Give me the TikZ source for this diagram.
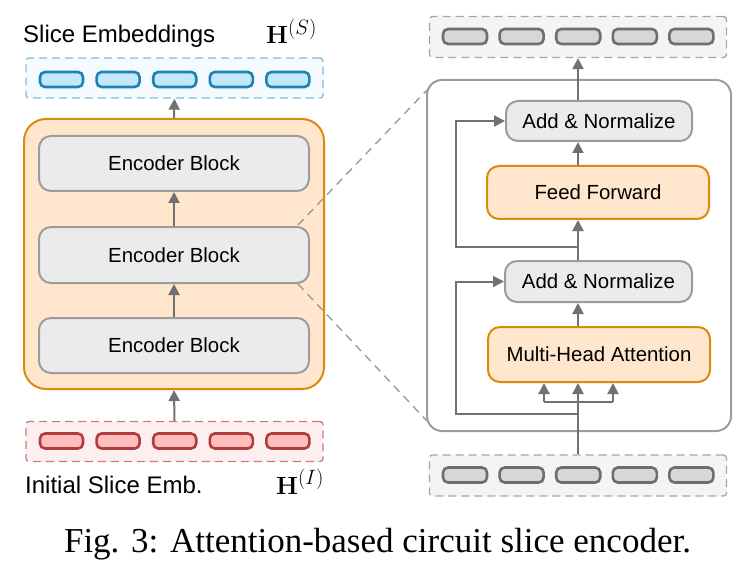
\documentclass[tikz,border=0pt]{standalone}
\usepackage[no-math]{fontspec}
\setmainfont{Liberation Sans}
\newfontfamily\capfont{Liberation Serif}
\usetikzlibrary{arrows.meta}
\newcommand\bigsupscript[1]{\hbox{\fontsize{19.5}{22}\selectfont$#1$}}
\definecolor{boxfill}{HTML}{EBEBEB}
\definecolor{boxgray}{HTML}{9C9C9C}
\definecolor{orgfill}{HTML}{FFE6CC}
\definecolor{orgstroke}{HTML}{DA8A0E}
\definecolor{bluecfill}{HTML}{F4FAFD}
\definecolor{bluecstroke}{HTML}{7FBFD8}
\definecolor{bluetfill}{HTML}{C4E8FA}
\definecolor{bluetstroke}{HTML}{1B83B3}
\definecolor{redcfill}{HTML}{FDEFEF}
\definecolor{redcstroke}{HTML}{CF7A7A}
\definecolor{redtfill}{HTML}{FFBEBE}
\definecolor{redtstroke}{HTML}{B03C3C}
\definecolor{graycfill}{HTML}{F4F4F4}
\definecolor{graycstroke}{HTML}{A6A6A6}
\definecolor{graytfill}{HTML}{D7D7D7}
\definecolor{graytstroke}{HTML}{6E6E6E}
\definecolor{arrowgray}{HTML}{717171}
\begin{document}
\begin{tikzpicture}[x=1pt,y=-1pt,
  lbl/.style={font=\fontsize{20.4}{24}\selectfont},
  encbox/.style={draw=boxgray, fill=boxfill, line width=2pt, rounded corners=12pt, inner sep=0pt, lbl},
  orgbox/.style={draw=orgstroke, fill=orgfill, line width=2pt, rounded corners=12pt, inner sep=0pt, lbl},
  tok/.style={line width=2.6pt, rounded corners=5pt, minimum width=43pt, minimum height=15pt, inner sep=0pt},
  cont/.style={dash pattern=on 8pt off 5pt, line width=1.3pt, rounded corners=3pt, inner sep=0pt, minimum width=297pt, minimum height=40pt},
  arr/.style={draw=arrowgray, line width=2pt, -{Triangle[length=11pt,width=11pt]}},
  ln/.style={draw=arrowgray, line width=2pt},
  zoomln/.style={draw=boxgray, line width=1.4pt, dash pattern=on 8pt off 6pt},
  title/.style={font=\fontsize{24}{28}\selectfont, inner sep=0pt},
  mth/.style={font=\fontsize{25}{30}\selectfont, inner sep=0pt}]
\useasboundingbox (0,0) rectangle (752,564);

% ---------- left panel ----------
\node[title, anchor=base west] (ttop) at (23,43) {Slice Embeddings};
\node[mth, anchor=base west] (hs) at (266,44) {$\mathbf{H}^{\bigsupscript{(S)}}$};
\node[cont, draw=bluecstroke, fill=bluecfill] (bc) at (174.5,78) {};
\foreach \i in {0,...,4}{
  \node[tok, draw=bluetstroke, fill=bluetfill] (bt\i) at ({61.5+56.6*\i},79.5) {};
}

\node[draw=orgstroke, fill=orgfill, line width=2pt, rounded corners=22pt,
      minimum width=300pt, minimum height=270pt, inner sep=0pt] (enc) at (174,254) {};
\node[encbox, minimum width=270pt, minimum height=55pt] (e1) at (174,163.5) {Encoder Block};
\node[encbox, minimum width=270pt, minimum height=56pt] (e2) at (174,255) {Encoder Block};
\node[encbox, minimum width=270pt, minimum height=55pt] (e3) at (174,345.5) {Encoder Block};

\node[cont, draw=redcstroke, fill=redcfill] (rc) at (174.5,441.5) {};
\foreach \i in {0,...,4}{
  \node[tok, draw=redtstroke, fill=redtfill] (rt\i) at ({61.5+56.6*\i},441) {};
}
\node[title, anchor=base west] (tbot) at (25,493) {Initial Slice Emb.};
\node[mth, anchor=base west] (hi) at (276,494) {$\mathbf{H}^{\bigsupscript{(I)}}$};

\draw[arr] (rc.north) -- (enc.south);
\draw[arr] (e3.north) -- (e2.south);
\draw[arr] (e2.north) -- (e1.south);
\draw[arr] (enc.north) -- (bc.south);

% ---------- right panel ----------
\node[cont, draw=graycstroke, fill=graycfill, minimum height=41pt] (gout) at (578,37) {};
\foreach \i in {0,...,4}{
  \node[tok, draw=graytstroke, fill=graytfill, minimum width=44pt] (go\i) at ({465+56.6*\i},36.5) {};
}
\node[cont, draw=graycstroke, fill=graycfill, minimum height=41pt] (gin) at (578,475.5) {};
\foreach \i in {0,...,4}{
  \node[tok, draw=graytstroke, fill=graytfill, minimum width=44pt] (gi\i) at ({465+56.6*\i},475) {};
}

\node[draw=boxgray, line width=2pt, rounded corners=15pt, minimum width=304pt,
      minimum height=351pt, inner sep=0pt] (big) at (579,255.5) {};

\node[encbox, minimum width=186pt, minimum height=40pt] (an2) at (599,121) {Add \& Normalize};
\node[orgbox, minimum width=222pt, minimum height=53pt] (ff) at (598,192.5) {Feed Forward};
\node[encbox, minimum width=187pt, minimum height=41pt] (an1) at (598.5,281.5) {Add \& Normalize};
\node[orgbox, minimum width=222pt, minimum height=55pt] (mha) at (599,354.5) {Multi-Head Attention};

% connectors
\coordinate (fl) at (544,402);
\coordinate (fr) at (613,402);
\coordinate (j1) at (578,414);
\coordinate (k1) at (456,414);
\coordinate (j2) at (578,247);
\coordinate (k2) at (456,247);

\draw[ln] (fl) -- (fr);
\draw[arr] (fl) -- (fl |- mha.south);
\draw[arr] (fr) -- (fr |- mha.south);
\draw[arr] (gin.north) -- (gin.north |- mha.south);
\draw[arr] (j1) -- (k1) |- (an1.west);
\draw[arr] (gin.north |- mha.north) -- (gin.north |- an1.south);
\draw[arr] (gin.north |- an1.north) -- (gin.north |- ff.south);
\draw[arr] (j2) -- (k2) |- (an2.west);
\draw[arr] (gin.north |- ff.north) -- (gin.north |- an2.south);
\draw[arr] (gin.north |- an2.north) -- (gout.south);

% zoom lines
\coordinate (za) at (298,225);
\coordinate (zb) at (298,284);
\coordinate (zc) at (427,90);
\coordinate (zd) at (427,421);
\draw[zoomln] (za) -- (zc);
\draw[zoomln] (zb) -- (zd);

% caption
\node[font=\capfont\fontsize{35}{40}\selectfont, anchor=base, inner sep=0pt] (cap) at (377.5,552) {Fig. 3: Attention-based circuit slice encoder.};
\end{tikzpicture}
\end{document}
